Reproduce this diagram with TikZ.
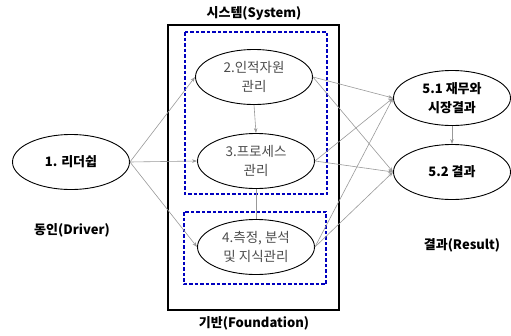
\documentclass[tikz,border=0pt]{standalone}
\usepackage{fontspec}
\setmainfont{Noto Sans CJK KR}
\usetikzlibrary{arrows.meta,shapes.geometric}

\begin{document}
\begin{tikzpicture}[
  x=1pt, y=-1pt,
  every node/.style={font=\fontsize{13.5}{19}\selectfont},
  box/.style={draw, ellipse, line width=0.9pt, minimum width=117pt, minimum height=55pt, inner sep=0pt, align=center},
  sub/.style={box, text=black!70},
  lead/.style={box, font=\fontsize{13}{19}\selectfont\bfseries},
  link/.style={draw=gray!80, line width=0.6pt, -{Stealth[length=5pt,width=3.5pt]}},
  zone/.style={draw=blue!75!black, dash pattern=on 3.5pt off 2pt, line width=1.1pt},
  caption/.style={font=\fontsize{13}{15}\selectfont\bfseries},
]
\useasboundingbox (0,0) rectangle (511,335);
% Frame of the system and its two zones
\draw[line width=1.2pt] (168,25) rectangle (339,310);
\draw[zone] (185,32) rectangle (327,194);
\draw[zone] (184,212) rectangle (326,284);
% Ellipses
\node[lead] (lead) at (71,162) {1. 리더쉽};
\node[sub] (hr) at (254,77) {2.인적자원\\관리};
\node[sub] (proc) at (256,161) {3.프로세스\\관리};
\node[sub] (meas) at (256,247) {4.측정, 분석\\및 지식관리};
\node[lead] (fin) at (452,98) {5.1 재무와\\시장결과};
\node[lead] (res) at (452,172) {5.2 결과};
% Captions
\node[caption] (sys) at (254,13) {시스템(System)};
\node[caption] (fnd) at (254,323) {기반(Foundation)};
\node[caption] (drv) at (72,230) {동인(Driver)};
\node[caption] (out) at (462,245) {결과(Result)};
% Links from the driver
\draw[link] (lead.east) -- (hr.west);
\draw[link] (lead.east) -- (proc.west);
\draw[link] (lead.east) -- (meas.west);
% Links inside the system
\draw[link] (hr.south) -- (proc.north);
\draw[draw=gray!80, line width=0.6pt] (proc.south) -- (meas.north);
% Links to the results
\foreach \src in {hr,proc,meas} {
  \draw[link] (\src.east) -- (fin.west);
  \draw[link] (\src.east) -- (res.west);
}
\draw[link] (fin.south) -- (res.north);
\end{tikzpicture}
\end{document}
